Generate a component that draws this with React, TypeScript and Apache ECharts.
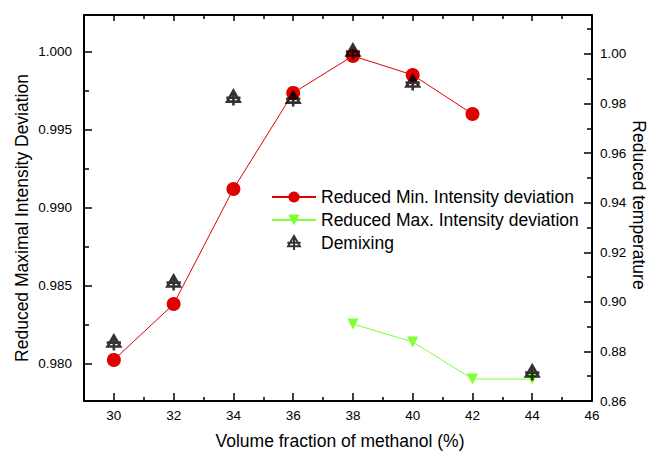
import React, { useEffect, useRef } from "react";
import * as echarts from "echarts";

// ---- data ----
const methanolMin = [30, 32, 34, 36, 38, 40, 42];
const reducedMin = [0.98026, 0.98384, 0.99121, 0.99736, 0.99973, 0.99851, 0.99601];
const methanolMax = [38, 40, 42, 44];
const reducedMax = [0.98256, 0.98141, 0.97904, 0.97904];
const methanolDemix = [30, 32, 34, 36, 38, 40, 44];
const demixing = [0.8834, 0.9076, 0.9822, 0.9818, 1.0008, 0.9883, 0.8713];

const xMajorTicks = [30, 32, 34, 36, 38, 40, 42, 44, 46];
const xMinorTicks = [31, 33, 35, 37, 39, 41, 43, 45];
const leftMajorTicks = [0.98, 0.985, 0.99, 0.995, 1.0];
const leftMinorTicks = [0.9825, 0.9875, 0.9925, 0.9975];
const rightMajorTicks = [0.86, 0.88, 0.9, 0.92, 0.94, 0.96, 0.98, 1.0];
const rightMinorTicks = [0.87, 0.89, 0.91, 0.93, 0.95, 0.97, 0.99, 1.01];

const X_MIN = 29;
const X_MAX = 46;
const L_MIN = 0.97763;
const L_MAX = 1.00235;
const R_MIN = 0.86;
const R_MAX = 1.01573;

const FONT = "Liberation Sans, Arial, sans-serif";
const RED = "#e00000";
const GREEN = "#80ff33";
const DEMIX_SYMBOL =
  "path://M10 1 L2 15 L18 15 Z M1 10 L19 10 M10 1 L10 20";

export default function App() {
  const ref = useRef<HTMLDivElement>(null);

  useEffect(() => {
    if (!ref.current) return;
    const chart = echarts.init(ref.current, null, { renderer: "svg" });

    const axisLine = { show: true, lineStyle: { color: "#000", width: 2 } };
    const hiddenLine = { show: false };

    const xBase = {
      type: "value" as const,
      min: X_MIN,
      max: X_MAX,
      splitLine: { show: false },
    };
    const lBase = {
      type: "value" as const,
      min: L_MIN,
      max: L_MAX,
      splitLine: { show: false },
    };
    const rBase = {
      type: "value" as const,
      min: R_MIN,
      max: R_MAX,
      splitLine: { show: false },
    };

    chart.setOption({
      animation: false,
      backgroundColor: "#fff",
      grid: { left: 84, right: 58, top: 15, bottom: 51, containLabel: false },
      xAxis: [
        {
          ...xBase,
          position: "bottom",
          axisLine,
          axisTick: {
            show: true,
            inside: true,
            length: 8,
            customValues: xMajorTicks,
            lineStyle: { color: "#000", width: 1.5 },
          },
          axisLabel: {
            show: true,
            customValues: xMajorTicks,
            margin: 7,
            color: "#000",
            fontSize: 13.5,
            fontFamily: FONT,
            formatter: (v: number) => String(Math.round(v)),
          },
        },
        {
          ...xBase,
          position: "bottom",
          axisLine: hiddenLine,
          axisTick: {
            show: true,
            inside: true,
            length: 4,
            customValues: xMinorTicks,
            lineStyle: { color: "#000", width: 1.5 },
          },
          axisLabel: { show: false },
        },
        {
          ...xBase,
          position: "top",
          axisLine,
          axisTick: {
            show: true,
            inside: true,
            length: 6,
            customValues: xMajorTicks,
            lineStyle: { color: "#000", width: 1.5 },
          },
          axisLabel: { show: false },
        },
        {
          ...xBase,
          position: "top",
          axisLine: hiddenLine,
          axisTick: {
            show: true,
            inside: true,
            length: 4,
            customValues: xMinorTicks,
            lineStyle: { color: "#000", width: 1.5 },
          },
          axisLabel: { show: false },
        },
      ],
      yAxis: [
        {
          ...lBase,
          position: "left",
          axisLine,
          axisTick: {
            show: true,
            inside: true,
            length: 8,
            customValues: leftMajorTicks,
            lineStyle: { color: "#000", width: 1.5 },
          },
          axisLabel: {
            show: true,
            customValues: leftMajorTicks,
            margin: 12,
            color: "#000",
            fontSize: 13.5,
            fontFamily: FONT,
            formatter: (v: number) => v.toFixed(3),
          },
        },
        {
          ...rBase,
          position: "right",
          axisLine,
          axisTick: {
            show: true,
            inside: true,
            length: 8,
            customValues: rightMajorTicks,
            lineStyle: { color: "#000", width: 1.5 },
          },
          axisLabel: {
            show: true,
            customValues: rightMajorTicks,
            margin: 8,
            color: "#000",
            fontSize: 13.5,
            fontFamily: FONT,
            formatter: (v: number) => v.toFixed(2),
          },
        },
        {
          ...lBase,
          position: "left",
          axisLine: hiddenLine,
          axisTick: {
            show: true,
            inside: true,
            length: 5,
            customValues: leftMinorTicks,
            lineStyle: { color: "#000", width: 1.5 },
          },
          axisLabel: { show: false },
        },
        {
          ...rBase,
          position: "right",
          axisLine: hiddenLine,
          axisTick: {
            show: true,
            inside: true,
            length: 5,
            customValues: rightMinorTicks,
            lineStyle: { color: "#000", width: 1.5 },
          },
          axisLabel: { show: false },
        },
      ],
      legend: {
        orient: "vertical",
        left: 271,
        top: 188,
        itemWidth: 44,
        itemHeight: 14,
        itemGap: 5,
        padding: 0,
        textStyle: { color: "#000", fontSize: 17.5, fontFamily: FONT },
        data: [
          "Reduced Min. Intensity deviation",
          "Reduced Max. Intensity deviation",
          "Demixing",
        ],
      },
      series: [
        {
          name: "Reduced Min. Intensity deviation",
          type: "line",
          xAxisIndex: 0,
          yAxisIndex: 0,
          data: methanolMin.map((x, i) => [x, reducedMin[i]]),
          symbol: "circle",
          symbolSize: 14,
          lineStyle: { color: RED, width: 1 },
          itemStyle: { color: RED },
          z: 3,
        },
        {
          name: "Reduced Max. Intensity deviation",
          type: "line",
          xAxisIndex: 0,
          yAxisIndex: 0,
          data: methanolMax.map((x, i) => [x, reducedMax[i]]),
          symbol: "triangle",
          symbolRotate: 180,
          symbolSize: 11,
          lineStyle: { color: GREEN, width: 1 },
          itemStyle: { color: GREEN },
          z: 2,
        },
        {
          name: "Demixing",
          type: "scatter",
          xAxisIndex: 0,
          yAxisIndex: 1,
          data: methanolDemix.map((x, i) => [x, demixing[i]]),
          symbol: DEMIX_SYMBOL,
          symbolSize: 15,
          symbolKeepAspect: true,
          itemStyle: {
            color: "rgba(0,0,0,0)",
            borderColor: "#000",
            borderWidth: 2.6,
          },
          z: 4,
        },
      ],
      graphic: [
        {
          type: "text",
          x: 22,
          y: 218,
          rotation: Math.PI / 2,
          style: {
            text: "Reduced Maximal Intensity Deviation",
            fill: "#000",
            fontSize: 17.5,
            fontFamily: FONT,
            align: "center",
            verticalAlign: "middle",
          },
        },
        {
          type: "text",
          x: 639,
          y: 205,
          rotation: -Math.PI / 2,
          style: {
            text: "Reduced temperature",
            fill: "#000",
            fontSize: 17.5,
            fontFamily: FONT,
            align: "center",
            verticalAlign: "middle",
          },
        },
        {
          type: "text",
          x: 340,
          y: 441,
          style: {
            text: "Volume fraction of methanol (%)",
            fill: "#000",
            fontSize: 17.5,
            fontFamily: FONT,
            align: "center",
            verticalAlign: "middle",
          },
        },
      ],
    });

    return () => {
      chart.dispose();
    };
  }, []);

  return (
    <div
      ref={ref}
      style={{
        position: "fixed",
        left: 0,
        top: 0,
        width: 650,
        height: 452,
        background: "#fff",
      }}
    />
  );
}
